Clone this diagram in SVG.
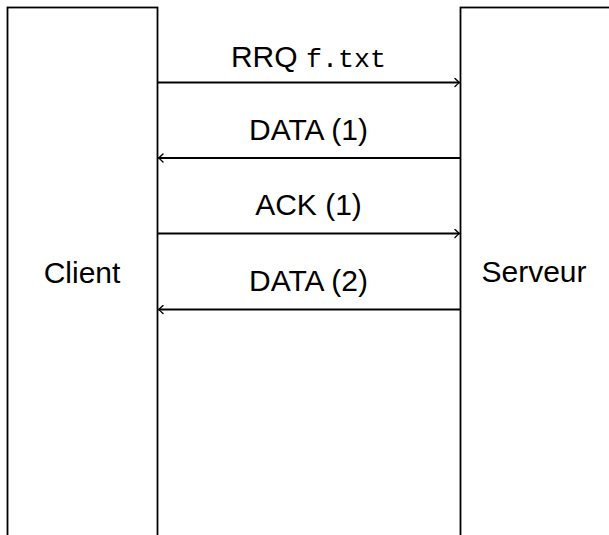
<svg xmlns="http://www.w3.org/2000/svg" width="609" height="535" viewBox="0 0 609 535">
<style>
.box{fill:none;stroke:#000;stroke-width:1.8}
.lbl{font-family:"Liberation Sans",Arial,sans-serif;font-size:30px;fill:#000;text-anchor:middle}
.mono{font-family:"Liberation Mono","Courier New",monospace;font-size:26.7px}
.msg{stroke:#000;stroke-width:1.8;fill:none}
</style>
<defs>
<marker id="ah" viewBox="-6 -5 8 10" refX="0" refY="0" markerWidth="8" markerHeight="10" markerUnits="userSpaceOnUse" orient="auto">
<path d="M-4.5,-4 Q-1.2,-0.8 0,0 Q-1.2,0.8 -4.5,4" fill="none" stroke="#000" stroke-width="1.4" stroke-linecap="round"/>
</marker>
</defs>
<rect width="609" height="535" fill="#fff"/>
<g id="client">
<rect class="box" x="7.5" y="7.5" width="150" height="540"/>
<text class="lbl" x="82" y="283">Client</text>
</g>
<g id="serveur">
<rect class="box" x="460.5" y="7.5" width="160" height="540"/>
<text class="lbl" x="534" y="282">Serveur</text>
</g>
<g id="connectors">
<line class="msg" x1="158" y1="82.5" x2="459.5" y2="82.5" marker-end="url(#ah)"/>
<text class="lbl" x="308.5" y="67">RRQ <tspan class="mono">f.txt</tspan></text>
<line class="msg" x1="460" y1="158" x2="158.5" y2="158" marker-end="url(#ah)"/>
<text class="lbl" x="308.5" y="139.5">DATA (1)</text>
<line class="msg" x1="158" y1="233.5" x2="459.5" y2="233.5" marker-end="url(#ah)"/>
<text class="lbl" x="308.5" y="215">ACK (1)</text>
<line class="msg" x1="460" y1="309.5" x2="158.5" y2="309.5" marker-end="url(#ah)"/>
<text class="lbl" x="308.5" y="290.5">DATA (2)</text>
</g>
</svg>
